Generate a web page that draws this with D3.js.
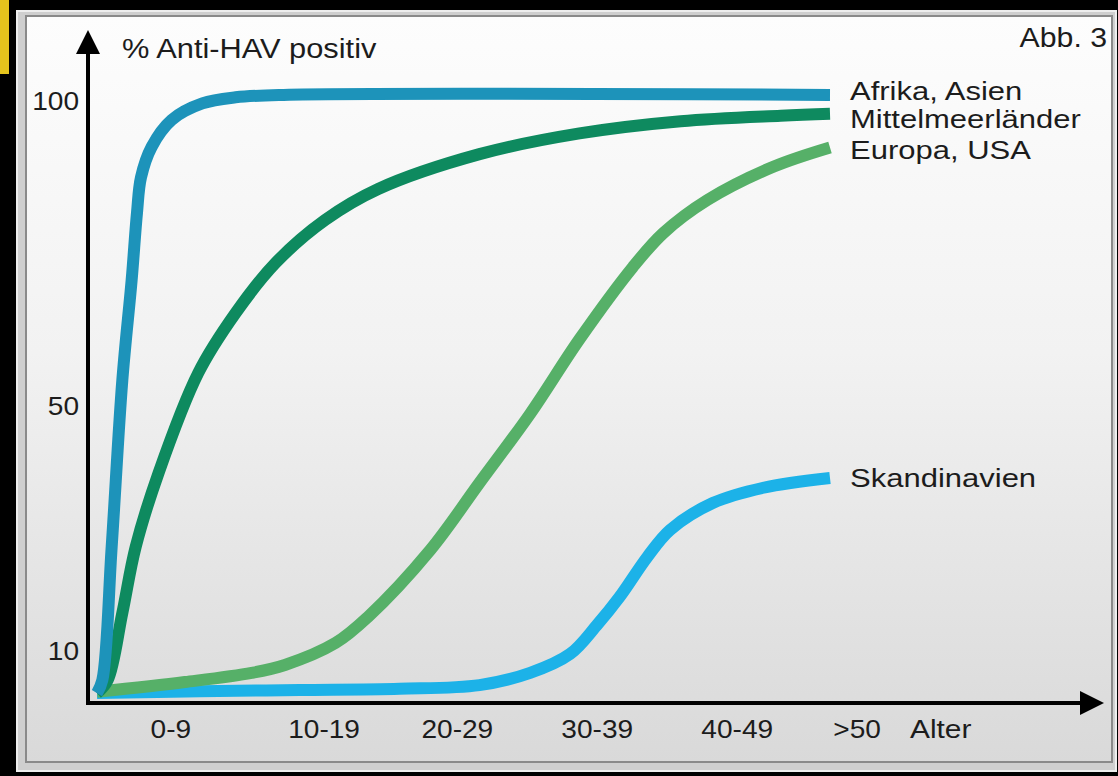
<!DOCTYPE html>
<html>
<head>
<meta charset="utf-8">
<script src="https://cdn.jsdelivr.net/npm/d3@7"></script>
<style>
  body { margin: 0; background: #000; }
  text { font-family: "Liberation Sans", Arial, sans-serif; fill: #1c1c1c; }
</style>
</head>
<body>
<div id="container"></div>
<script>
/* DATA: [age in years, % anti-HAV positive] */
const ageLabels = ["0-9", "10-19", "20-29", "30-39", "40-49", ">50"];
const ageTicks = [5.5, 17, 27, 37.5, 48, 57];
const pctTicks = [10, 50, 100];

const afrikaAsien = [[0,3.1],[0.4,5.2],[1.1,27],[1.9,54.3],[2.6,70.7],[3,81.7],[3.3,87.5],
  [4.1,92.5],[5.6,96.9],[7.9,99.6],[10.4,100.6],[14,101],[55,101]];
const mittelmeer = [[0,3.1],[0.8,5.2],[1.9,16.2],[2.9,27],[4.6,39],[7.6,55.5],[10.4,65.3],
  [13.4,73.5],[17.1,80.5],[21.1,85.6],[28.7,91.3],[36.2,94.7],[43.8,96.7],[51.3,97.6],[55,97.9]];
const europaUsa = [[0,3.3],[6.6,4.9],[11.6,6.4],[14.1,7.7],[17.9,11.3],[20.3,15.5],[25,26.5],
  [28.7,37.5],[32.5,48.8],[36.2,61],[40.2,72.8],[42.5,78.4],[45.8,83.8],[50.7,89.2],[55,92.4]];
const skandinavien = [[0,3.1],[7.7,3.4],[15.2,3.6],[22.7,3.8],[28.7,4.4],[32.5,6.4],[35.5,9.5],
  [37.5,14.2],[39.2,18.8],[41.3,25.4],[43,29.8],[46.2,34.2],[50,36.7],[55,38.3]];

const regionNames = ["Skandinavien", "Europa, USA", "Mittelmeerländer", "Afrika, Asien"];
const regionColors = ["#1cb2e8", "#56b068", "#0e8a5f", "#1d93ba"];
const regionData = [skandinavien, europaUsa, mittelmeer, afrikaAsien];
const labelNudge = [0, 3, 5, -4];   // small vertical shifts so the end labels do not collide

/* LAYOUT */
const width = 1118, height = 776;
const axisX = 88, axisY = 703;

const svg = d3.select("#container").append("svg")
  .attr("width", width)
  .attr("height", height);

// background gradient for the panel
const grad = svg.append("defs").append("linearGradient")
  .attr("id", "bg").attr("x1", 0).attr("y1", 0).attr("x2", 0).attr("y2", 1);
grad.append("stop").attr("offset", "0%").attr("stop-color", "#fdfdfd");
grad.append("stop").attr("offset", "45%").attr("stop-color", "#f2f2f2");
grad.append("stop").attr("offset", "100%").attr("stop-color", "#d9d9d9");

// yellow tab and frame
svg.append("rect").attr("x", 0).attr("y", 0).attr("width", 9).attr("height", 74).attr("fill", "#e5c41d");
svg.append("rect").attr("x", 17).attr("y", 11).attr("width", 1099).attr("height", 760)
  .attr("fill", "#cfcfcf").attr("stroke", "#eeeeee").attr("stroke-width", 2);
svg.append("rect").attr("x", 26).attr("y", 16).attr("width", 1086).attr("height", 746)
  .attr("fill", "url(#bg)").attr("stroke", "#8a8a8a").attr("stroke-width", 2);

// SCALES
const xScale = d3.scaleLinear().domain([0, 55]).range([97, 830]);
const yScale = d3.scaleLinear().domain([0, 100]).range([712, 101]);

// LINES
const line = d3.line()
  .x(d => xScale(d[0]))
  .y(d => yScale(d[1]))
  .curve(d3.curveCatmullRom.alpha(0.5));

svg.selectAll("path.region")
  .data(regionData)
  .join("path")
  .attr("class", "region")
  .attr("d", d => line(d))
  .attr("fill", "none")
  .attr("stroke", (d, i) => regionColors[i])
  .attr("stroke-width", 12)
  .attr("stroke-linejoin", "round")
  .attr("stroke-linecap", "butt");

// labels at line ends
svg.selectAll("text.region")
  .data(regionData)
  .join("text")
  .attr("class", "region")
  .attr("transform", (d, i) => `translate(${xScale(55) + 20},${yScale(d[d.length - 1][1]) + labelNudge[i]}) scale(1.24,1)`)
  .attr("dy", "0.35em")
  .style("font-size", "25px")
  .text((d, i) => regionNames[i]);

// AXES
const xAxis = d3.axisBottom(xScale)
  .tickValues(ageTicks)
  .tickFormat((d, i) => ageLabels[i])
  .tickSize(0)
  .tickPadding(17);
const gx = svg.append("g").attr("transform", `translate(0,${axisY})`).call(xAxis);
gx.select(".domain").remove();
gx.selectAll("text").attr("fill", "#1c1c1c").style("font-size", "26px").attr("transform", "scale(1.08,1)");

const yAxis = d3.axisLeft(yScale).tickValues(pctTicks).tickSize(0);
const gy = svg.append("g").attr("transform", `translate(${axisX},0)`).call(yAxis);
gy.select(".domain").remove();
gy.selectAll("text").attr("fill", "#1c1c1c").style("font-size", "26px")
  .attr("x", 0).attr("transform", "translate(-9,0) scale(1.08,1)");

// axis arrows
svg.append("line").attr("x1", axisX).attr("y1", axisY + 2).attr("x2", axisX).attr("y2", 50)
  .attr("stroke", "#000").attr("stroke-width", 4);
svg.append("path").attr("d", `M${axisX},30 L${axisX - 12},54 L${axisX + 12},54 Z`).attr("fill", "#000");
svg.append("line").attr("x1", axisX - 2).attr("y1", axisY).attr("x2", 1085).attr("y2", axisY)
  .attr("stroke", "#000").attr("stroke-width", 4);
svg.append("path").attr("d", `M1104,${axisY} L1080,${axisY - 12} L1080,${axisY + 12} Z`).attr("fill", "#000");

// axis titles
svg.append("text").attr("transform", `translate(122,58) scale(1.1,1)`)
  .style("font-size", "28px").text("% Anti-HAV positiv");
svg.append("text").attr("transform", `translate(${xScale(61)},738) scale(1.15,1)`)
  .style("font-size", "26px").text("Alter");
svg.append("text").attr("transform", `translate(1107,47) scale(1.08,1)`)
  .attr("text-anchor", "end").style("font-size", "28px").text("Abb. 3");
</script>
</body>
</html>
